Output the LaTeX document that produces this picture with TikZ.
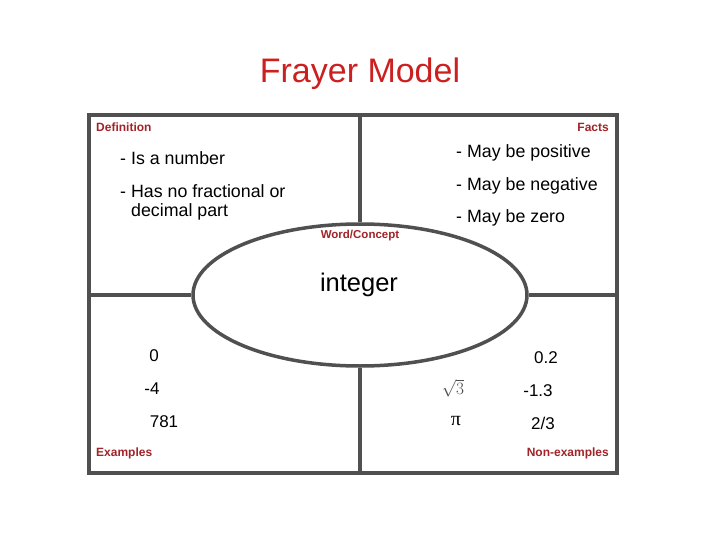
\documentclass[tikz,border=0pt]{standalone}
\usepackage{fontspec}
\setmainfont{Liberation Sans}
\newfontfamily\seriffont{Liberation Serif}
\usepackage{amsmath}
\usetikzlibrary{shapes.geometric}

\definecolor{framegrey}{RGB}{80,80,80}
\definecolor{titlered}{RGB}{204,32,32}
\definecolor{labelred}{RGB}{160,36,40}

\tikzset{
	frameline/.style={draw=framegrey,line width=3.5pt},
	cornerlabel/.style={text=labelred,font=\fontsize{12}{13}\selectfont\bfseries,inner sep=0pt},
	itemtext/.style={font=\fontsize{17.8}{21}\selectfont,inner sep=0pt,anchor=west},
	numtext/.style={font=\fontsize{17}{20}\selectfont,inner sep=0pt}
}

\begin{document}
\begin{tikzpicture}[x=1pt,y=-1pt]
	\useasboundingbox (0,0) rectangle (720,540);
	\fill[white] (0,0) rectangle (720,540);
	
	\node[text=titlered,font=\fontsize{34}{36}\selectfont] (title) at (360,74) {Frayer Model};
	
	% frame and the four quarters
	\draw[frameline] (89,115) rectangle (617,473);
	\node[ellipse,frameline,fill=white,minimum width=334pt,minimum height=142pt,inner sep=0pt] (concept) at (360,295) {};
	\coordinate (topmid) at (concept.north |- 0,115);
	\coordinate (botmid) at (concept.south |- 0,473);
	\coordinate (leftmid) at (89,0 |- concept.west);
	\coordinate (rightmid) at (617,0 |- concept.east);
	\draw[frameline] (topmid) -- (concept.north);
	\draw[frameline] (concept.south) -- (botmid);
	\draw[frameline] (leftmid) -- (concept.west);
	\draw[frameline] (concept.east) -- (rightmid);
	
	% corner labels
	\node[cornerlabel,anchor=west] (definition) at (96,127) {Definition};
	\node[cornerlabel,anchor=east] (facts) at (609,127) {Facts};
	\node[cornerlabel,anchor=west] (examples) at (96,453) {Examples};
	\node[cornerlabel,anchor=east] (nonexamples) at (609,453) {Non-examples};
	\node[cornerlabel,font=\fontsize{11.5}{13}\selectfont\bfseries] (wordlabel) at (360,236) {Word/Concept};
	
	\node[font=\fontsize{25.5}{28}\selectfont] (word) at (359,285) {integer};
	
	% definition
	\node[itemtext] (def1) at (120,158) {- Is a number};
	\node[itemtext] (def2) at (120,191) {- Has no fractional or};
	\node[itemtext] (def3) at (131,212) {decimal part};
	
	% facts
	\node[itemtext] (fact1) at (456,153) {- May be positive};
	\node[itemtext] (fact2) at (456,186) {- May be negative};
	\node[itemtext] (fact3) at (456,218) {- May be zero};
	
	% examples
	\node[numtext] (ex1) at (154,356) {0};
	\node[numtext] (ex2) at (152,389) {-4};
	\node[numtext] (ex3) at (164,422) {781};
	
	% non-examples
	\node[numtext] (non1) at (546,358) {0.2};
	\node[numtext] (non2) at (538,391) {-1.3};
	\node[numtext] (non3) at (543,423) {2/3};
	\node[text=black!70,font=\fontsize{19}{21}\selectfont,inner sep=0pt] (root) at (453,388) {$\sqrt{3}$};
	\node[font=\fontsize{20}{22}\seriffont,inner sep=0pt] (pi) at (456,421) {π};
\end{tikzpicture}
\end{document}
